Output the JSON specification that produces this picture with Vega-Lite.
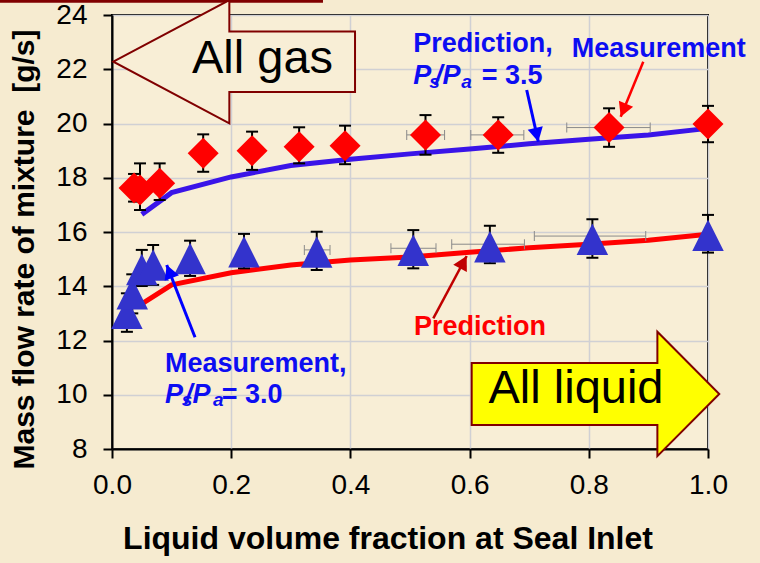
{
  "$schema": "https://vega.github.io/schema/vega-lite/v6.json",
  "width": 596,
  "height": 434,
  "autosize": {"type": "none"},
  "padding": {"left": 112, "top": 15, "right": 52, "bottom": 114},
  "background": "#F6EBD0",
  "config": {
    "view": {"stroke": "#000000", "strokeWidth": 2, "fill": "#F8EED6"},
    "axis": {
      "domainColor": "#000000", "domainWidth": 2,
      "tickColor": "#000000", "tickWidth": 2, "tickSize": 9,
      "gridColor": "#D0D0D4", "gridWidth": 1.5,
      "labelFont": "Liberation Sans", "labelFontSize": 28, "labelColor": "#000000",
      "titleFont": "Liberation Sans", "titleFontWeight": "bold", "titleColor": "#000000",
      "labelOverlap": false, "labelFlush": false, "labelBound": false
    }
  },
  "datasets": {
    "pred": [
      {"x": 0.05, "y": 16.65, "ratio": "3.5"},
      {"x": 0.1, "y": 17.45, "ratio": "3.5"},
      {"x": 0.2, "y": 18.03, "ratio": "3.5"},
      {"x": 0.3, "y": 18.45, "ratio": "3.5"},
      {"x": 0.4, "y": 18.68, "ratio": "3.5"},
      {"x": 0.5, "y": 18.88, "ratio": "3.5"},
      {"x": 0.6, "y": 19.06, "ratio": "3.5"},
      {"x": 0.7, "y": 19.25, "ratio": "3.5"},
      {"x": 0.8, "y": 19.42, "ratio": "3.5"},
      {"x": 0.9, "y": 19.58, "ratio": "3.5"},
      {"x": 1.0, "y": 19.82, "ratio": "3.5"},
      {"x": 0.05, "y": 13.35, "ratio": "3.0"},
      {"x": 0.1, "y": 14.05, "ratio": "3.0"},
      {"x": 0.2, "y": 14.5, "ratio": "3.0"},
      {"x": 0.3, "y": 14.78, "ratio": "3.0"},
      {"x": 0.4, "y": 14.97, "ratio": "3.0"},
      {"x": 0.5, "y": 15.08, "ratio": "3.0"},
      {"x": 0.6, "y": 15.25, "ratio": "3.0"},
      {"x": 0.7, "y": 15.42, "ratio": "3.0"},
      {"x": 0.8, "y": 15.55, "ratio": "3.0"},
      {"x": 0.9, "y": 15.7, "ratio": "3.0"},
      {"x": 1.0, "y": 15.92, "ratio": "3.0"}
    ],
    "meas": [
      {"x": 0.037, "y": 17.62, "lo": 17.12, "hi": 18.14, "ratio": "3.5"},
      {"x": 0.047, "y": 17.55, "lo": 16.81, "hi": 18.53, "ratio": "3.5"},
      {"x": 0.08, "y": 17.8, "lo": 17.18, "hi": 18.53, "ratio": "3.5"},
      {"x": 0.153, "y": 18.9, "lo": 18.22, "hi": 19.6, "ratio": "3.5"},
      {"x": 0.235, "y": 19.0, "lo": 18.29, "hi": 19.7, "ratio": "3.5"},
      {"x": 0.314, "y": 19.14, "lo": 18.53, "hi": 19.86, "ratio": "3.5"},
      {"x": 0.391, "y": 19.18, "lo": 18.5, "hi": 19.92, "ratio": "3.5"},
      {"x": 0.526, "y": 19.58, "lo": 18.85, "hi": 20.31, "ratio": "3.5"},
      {"x": 0.648, "y": 19.58, "lo": 18.92, "hi": 20.23, "ratio": "3.5"},
      {"x": 0.834, "y": 19.85, "lo": 19.14, "hi": 20.56, "ratio": "3.5"},
      {"x": 1.0, "y": 19.98, "lo": 19.31, "hi": 20.65, "ratio": "3.5"},
      {"x": 0.025, "y": 13.0, "lo": 12.32, "hi": 13.74, "ratio": "3.0"},
      {"x": 0.034, "y": 13.72, "lo": 13.0, "hi": 14.44, "ratio": "3.0"},
      {"x": 0.05, "y": 14.62, "lo": 14.01, "hi": 15.34, "ratio": "3.0"},
      {"x": 0.069, "y": 14.78, "lo": 14.05, "hi": 15.52, "ratio": "3.0"},
      {"x": 0.131, "y": 15.02, "lo": 14.38, "hi": 15.68, "ratio": "3.0"},
      {"x": 0.2215, "y": 15.27, "lo": 14.66, "hi": 15.93, "ratio": "3.0"},
      {"x": 0.3435, "y": 15.26, "lo": 14.6, "hi": 16.01, "ratio": "3.0"},
      {"x": 0.5055, "y": 15.33, "lo": 14.66, "hi": 16.07, "ratio": "3.0"},
      {"x": 0.634, "y": 15.46, "lo": 14.85, "hi": 16.23, "ratio": "3.0"},
      {"x": 0.806, "y": 15.73, "lo": 15.05, "hi": 16.47, "ratio": "3.0"},
      {"x": 1.0, "y": 15.88, "lo": 15.24, "hi": 16.63, "ratio": "3.0"}
    ],
    "hbars": [
      {"y": 19.58, "xlo": 0.4945, "xhi": 0.558},
      {"y": 19.58, "xlo": 0.602, "xhi": 0.691},
      {"y": 19.85, "xlo": 0.763, "xhi": 0.903},
      {"y": 15.34, "xlo": 0.3227, "xhi": 0.3658},
      {"y": 15.4, "xlo": 0.468, "xhi": 0.5436},
      {"y": 15.55, "xlo": 0.57, "xhi": 0.692},
      {"y": 15.85, "xlo": 0.7086, "xhi": 0.8955}
    ],
    "gasArrow": [{"x": 0.205, "y": 22.278}],
    "liqArrow": [{"x": 0.8112, "y": 10.03}],
    "bigText": [
      {"x": 0.2525, "y": 21.873, "text": "All gas"},
      {"x": 0.7785, "y": 9.685, "text": "All liquid"}
    ],
    "topline": [{"x": -0.188, "x2": 0.354, "y": 24.505}],
    "blueBold": [
      {"x": 0.5055, "y": 22.647, "text": "Prediction,"},
      {"x": 0.6203, "y": 21.456, "text": "= 3.5"},
      {"x": 0.7713, "y": 22.463, "text": "Measurement"},
      {"x": 0.0889, "y": 10.85, "text": "Measurement,"},
      {"x": 0.184, "y": 9.707, "text": "= 3.0"}
    ],
    "blueItalic": [
      {"x": 0.5055, "y": 21.456, "text": "P"},
      {"x": 0.5419, "y": 21.456, "text": "/P"},
      {"x": 0.0889, "y": 9.707, "text": "P"},
      {"x": 0.1225, "y": 9.707, "text": "/P"}
    ],
    "blueSub": [
      {"x": 0.5324, "y": 21.309, "text": "s"},
      {"x": 0.5861, "y": 21.309, "text": "a"},
      {"x": 0.117, "y": 9.585, "text": "s"},
      {"x": 0.1695, "y": 9.585, "text": "a"}
    ],
    "redText": [
      {"x": 0.5067, "y": 12.203, "text": "Prediction"}
    ],
    "arrowsBlue": [
      {"x": 0.6958, "y": 21.235, "x2": 0.7153, "y2": 19.329, "angle": 167.35},
      {"x": 0.1393, "y": 12.118, "x2": 0.0918, "y2": 14.783, "angle": 338.6}
    ],
    "arrowRed": [
      {"x": 0.8914, "y": 22.278, "x2": 0.8535, "y2": 20.251, "angle": 202.34}
    ],
    "arrowDark": [
      {"x": 0.5391, "y": 12.818, "x2": 0.5951, "y2": 15.115, "angle": 28.2}
    ]
  },
  "layer": [
    {
      "data": {"name": "pred"},
      "mark": {"type": "line", "strokeWidth": 5},
      "encoding": {
        "x": {
          "field": "x", "type": "quantitative",
          "scale": {"domain": [0, 1], "nice": false, "zero": false},
          "axis": {
            "values": [0, 0.2, 0.4, 0.6, 0.8, 1.0], "format": ".1f", "grid": true,
            "title": "Liquid volume fraction at Seal Inlet", "titleFontSize": 32,
            "titleX": 275.5, "titleY": 99.3, "titleBaseline": "alphabetic", "titleAlign": "center",
            "labelPadding": 13
          }
        },
        "y": {
          "field": "y", "type": "quantitative",
          "scale": {"domain": [8, 24], "nice": false, "zero": false},
          "axis": {
            "values": [8, 10, 12, 14, 16, 18, 20, 22, 24], "format": "d", "grid": true,
            "title": "Mass flow rate of mixture\u00a0 [g/s]", "titleFontSize": 30,
            "titleX": -79, "titleY": 234, "titleAngle": -90, "titleBaseline": "alphabetic", "titleAlign": "center",
            "labelPadding": 16
          }
        },
        "color": {"field": "ratio", "type": "nominal", "scale": {"domain": ["3.5", "3.0"], "range": ["#3A14E8", "#FF0000"]}, "legend": null}
      }
    },
    {
      "data": {"name": "hbars"},
      "mark": {"type": "rule", "color": "#8A8A8A", "strokeWidth": 1},
      "encoding": {
        "x": {"field": "xlo", "type": "quantitative"},
        "x2": {"field": "xhi"},
        "y": {"field": "y", "type": "quantitative"}
      }
    },
    {
      "data": {"name": "hbars"},
      "mark": {"type": "tick", "orient": "vertical", "color": "#8A8A8A", "thickness": 1, "size": 10, "opacity": 1},
      "encoding": {
        "x": {"field": "xlo", "type": "quantitative"},
        "y": {"field": "y", "type": "quantitative"}
      }
    },
    {
      "data": {"name": "hbars"},
      "mark": {"type": "tick", "orient": "vertical", "color": "#8A8A8A", "thickness": 1, "size": 10, "opacity": 1},
      "encoding": {
        "x": {"field": "xhi", "type": "quantitative"},
        "y": {"field": "y", "type": "quantitative"}
      }
    },
    {
      "data": {"name": "meas"},
      "mark": {"type": "rule", "color": "#000000", "strokeWidth": 2},
      "encoding": {
        "x": {"field": "x", "type": "quantitative"},
        "y": {"field": "lo", "type": "quantitative"},
        "y2": {"field": "hi"}
      }
    },
    {
      "data": {"name": "meas"},
      "mark": {"type": "tick", "orient": "horizontal", "color": "#000000", "thickness": 2, "size": 12, "opacity": 1},
      "encoding": {
        "x": {"field": "x", "type": "quantitative"},
        "y": {"field": "lo", "type": "quantitative"}
      }
    },
    {
      "data": {"name": "meas"},
      "mark": {"type": "tick", "orient": "horizontal", "color": "#000000", "thickness": 2, "size": 12, "opacity": 1},
      "encoding": {
        "x": {"field": "x", "type": "quantitative"},
        "y": {"field": "hi", "type": "quantitative"}
      }
    },
    {
      "data": {"name": "meas"},
      "transform": [{"filter": "datum.ratio == '3.5'"}],
      "mark": {"type": "point", "shape": "diamond", "size": 961, "filled": true, "color": "#FF0000", "opacity": 1, "strokeWidth": 0},
      "encoding": {
        "x": {"field": "x", "type": "quantitative"},
        "y": {"field": "y", "type": "quantitative"}
      }
    },
    {
      "data": {"name": "meas"},
      "transform": [{"filter": "datum.ratio == '3.0'"}],
      "mark": {"type": "point", "shape": "M0,-1 L1,1 L-1,1 Z", "size": 992, "filled": true, "color": "#3333CC", "opacity": 1, "strokeWidth": 0},
      "encoding": {
        "x": {"field": "x", "type": "quantitative"},
        "y": {"field": "y", "type": "quantitative"}
      }
    },
    {
      "data": {"name": "topline"},
      "mark": {"type": "rule", "color": "#800000", "strokeWidth": 3},
      "encoding": {
        "x": {"field": "x", "type": "quantitative"},
        "x2": {"field": "x2"},
        "y": {"field": "y", "type": "quantitative"}
      }
    },
    {
      "data": {"name": "gasArrow"},
      "mark": {"type": "point", "shape": "M-1,0 L-0.04,-0.51 L-0.04,-0.25 L1,-0.25 L1,0.25 L-0.04,0.25 L-0.04,0.51 Z", "size": 58419, "filled": true, "fill": "#F8EED6", "stroke": "#800000", "strokeWidth": 2, "opacity": 1},
      "encoding": {
        "x": {"field": "x", "type": "quantitative"},
        "y": {"field": "y", "type": "quantitative"}
      }
    },
    {
      "data": {"name": "liqArrow"},
      "mark": {"type": "point", "shape": "M-1,-0.25 L0.5,-0.25 L0.5,-0.502 L1,0 L0.5,0.502 L0.5,0.25 L-1,0.25 Z", "size": 61306, "filled": true, "fill": "#FFFF00", "stroke": "#800000", "strokeWidth": 2, "opacity": 1},
      "encoding": {
        "x": {"field": "x", "type": "quantitative"},
        "y": {"field": "y", "type": "quantitative"}
      }
    },
    {
      "data": {"name": "bigText"},
      "mark": {"type": "text", "font": "Liberation Sans", "fontSize": 47, "align": "center", "baseline": "alphabetic", "color": "#000000"},
      "encoding": {
        "x": {"field": "x", "type": "quantitative"},
        "y": {"field": "y", "type": "quantitative"},
        "text": {"field": "text"}
      }
    },
    {
      "data": {"name": "arrowsBlue"},
      "mark": {"type": "rule", "color": "#0000FF", "strokeWidth": 3},
      "encoding": {
        "x": {"field": "x", "type": "quantitative"},
        "y": {"field": "y", "type": "quantitative"},
        "x2": {"field": "x2"},
        "y2": {"field": "y2"}
      }
    },
    {
      "data": {"name": "arrowsBlue"},
      "mark": {"type": "point", "shape": "M0,0 L0.55,1 L-0.55,1 Z", "size": 784, "filled": true, "color": "#0000FF", "opacity": 1, "strokeWidth": 0},
      "encoding": {
        "x": {"field": "x2", "type": "quantitative"},
        "y": {"field": "y2", "type": "quantitative"},
        "angle": {"field": "angle", "type": "quantitative", "scale": null}
      }
    },
    {
      "data": {"name": "arrowRed"},
      "mark": {"type": "rule", "color": "#FF0000", "strokeWidth": 2.5},
      "encoding": {
        "x": {"field": "x", "type": "quantitative"},
        "y": {"field": "y", "type": "quantitative"},
        "x2": {"field": "x2"},
        "y2": {"field": "y2"}
      }
    },
    {
      "data": {"name": "arrowRed"},
      "mark": {"type": "point", "shape": "M0,0 L0.55,1 L-0.55,1 Z", "size": 784, "filled": true, "color": "#FF0000", "opacity": 1, "strokeWidth": 0},
      "encoding": {
        "x": {"field": "x2", "type": "quantitative"},
        "y": {"field": "y2", "type": "quantitative"},
        "angle": {"field": "angle", "type": "quantitative", "scale": null}
      }
    },
    {
      "data": {"name": "arrowDark"},
      "mark": {"type": "rule", "color": "#C00000", "strokeWidth": 2.5},
      "encoding": {
        "x": {"field": "x", "type": "quantitative"},
        "y": {"field": "y", "type": "quantitative"},
        "x2": {"field": "x2"},
        "y2": {"field": "y2"}
      }
    },
    {
      "data": {"name": "arrowDark"},
      "mark": {"type": "point", "shape": "M0,0 L0.55,1 L-0.55,1 Z", "size": 784, "filled": true, "color": "#C00000", "opacity": 1, "strokeWidth": 0},
      "encoding": {
        "x": {"field": "x2", "type": "quantitative"},
        "y": {"field": "y2", "type": "quantitative"},
        "angle": {"field": "angle", "type": "quantitative", "scale": null}
      }
    },
    {
      "data": {"name": "blueBold"},
      "mark": {"type": "text", "font": "Liberation Sans", "fontWeight": "bold", "fontSize": 27, "align": "left", "baseline": "alphabetic", "color": "#0D0DF2"},
      "encoding": {
        "x": {"field": "x", "type": "quantitative"},
        "y": {"field": "y", "type": "quantitative"},
        "text": {"field": "text"}
      }
    },
    {
      "data": {"name": "blueItalic"},
      "mark": {"type": "text", "font": "Liberation Sans", "fontWeight": "bold", "fontStyle": "italic", "fontSize": 27, "align": "left", "baseline": "alphabetic", "color": "#0D0DF2"},
      "encoding": {
        "x": {"field": "x", "type": "quantitative"},
        "y": {"field": "y", "type": "quantitative"},
        "text": {"field": "text"}
      }
    },
    {
      "data": {"name": "blueSub"},
      "mark": {"type": "text", "font": "Liberation Sans", "fontWeight": "bold", "fontStyle": "italic", "fontSize": 19, "align": "left", "baseline": "alphabetic", "color": "#0D0DF2"},
      "encoding": {
        "x": {"field": "x", "type": "quantitative"},
        "y": {"field": "y", "type": "quantitative"},
        "text": {"field": "text"}
      }
    },
    {
      "data": {"name": "redText"},
      "mark": {"type": "text", "font": "Liberation Sans", "fontWeight": "bold", "fontSize": 27, "align": "left", "baseline": "alphabetic", "color": "#FF0000"},
      "encoding": {
        "x": {"field": "x", "type": "quantitative"},
        "y": {"field": "y", "type": "quantitative"},
        "text": {"field": "text"}
      }
    }
  ]
}
